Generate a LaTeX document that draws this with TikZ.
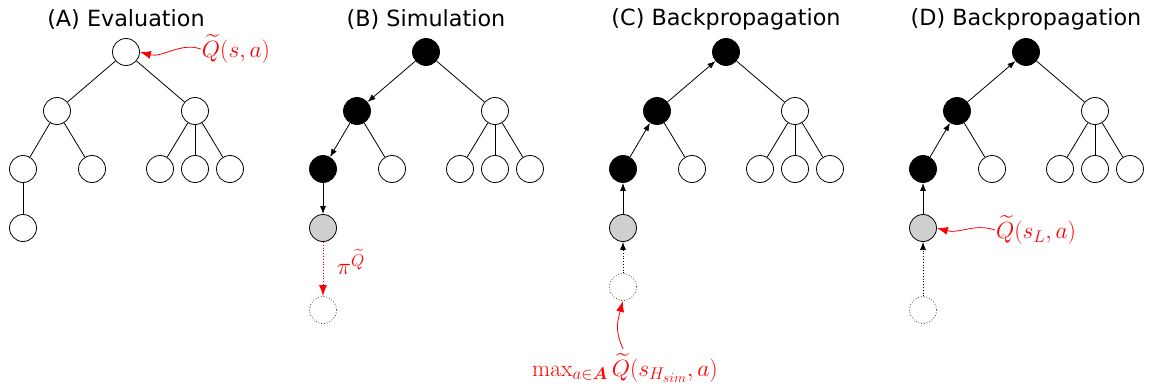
\RequirePackage{fix-cm}
\documentclass[tikz,border=0pt]{standalone}
\usepackage{amsmath,amssymb}
\usepackage{fontspec}
\setsansfont{DejaVu Sans}
\usepackage{tikz}
\usetikzlibrary{arrows.meta,positioning}
\DeclareMathSizes{23.5}{23.5}{17}{14}

\begin{document}
\begin{tikzpicture}[x=1pt, y=-1pt,
  st/.style={circle, draw, line width=0.8pt, minimum size=27pt, inner sep=0pt},
  hit/.style={st, fill=black},
  leaf/.style={st, fill=black!19},
  ghost/.style={st, draw=black!75, dotted},
  ttl/.style={font=\fontsize{22.3}{26}\selectfont\sffamily},
  lbl/.style={text=red, font=\fontsize{23.5}{28}\selectfont, inner sep=1pt},
  edge/.style={line width=0.8pt},
  tip/.style={edge, -{Latex[length=8pt,width=6pt]}},
  rtip/.style={edge, red, -{Latex[length=11pt,width=8pt]}}]
\useasboundingbox (0,0) rectangle (1155,385);

% (A) evaluation
\node[ttl] (aT) at (126,19) {(A) Evaluation};
\node[st] (a0) at (126,52) {};
\node[st] (a1) at (57,111) {};
\node[st] (a2) at (195,111) {};
\node[st] (a11) at (23,169) {};
\node[st] (a12) at (92,169) {};
\node[st] (a21) at (160,169) {};
\node[st] (a22) at (195,169) {};
\node[st] (a23) at (230,169) {};
\node[st] (a111) at (23,228) {};
\foreach \x/\y in {a0/a1,a0/a2,a1/a11,a1/a12,a2/a21,a2/a22,a2/a23,a11/a111} \draw[edge] (\x) -- (\y);
\node[lbl] (aq) at (236,49) {$\widetilde{Q}(s,a)$};
\draw[rtip] (aq.west) .. controls +(-20,-7) and +(22,6) .. (a0.east);

% (B) simulation
\begin{scope}[xshift=300pt]
\node[ttl] (bT) at (126,19) {(B) Simulation};
\node[hit] (b0) at (126,52) {};
\node[hit] (b1) at (57,111) {};
\node[st] (b2) at (195,111) {};
\node[hit] (b11) at (23,169) {};
\node[st] (b12) at (92,169) {};
\node[st] (b21) at (160,169) {};
\node[st] (b22) at (195,169) {};
\node[st] (b23) at (230,169) {};
\node[leaf] (b111) at (23,228) {};
\node[ghost] (b4) at (23,310) {};
\foreach \x/\y in {b0/b2,b1/b12,b2/b21,b2/b22,b2/b23} \draw[edge] (\x) -- (\y);
\foreach \x/\y in {b0/b1,b1/b11,b11/b111} \draw[tip] (\x) -- (\y);
\draw[rtip, dotted] (b111) -- (b4);
\node[lbl] (bq) at (51,262) {$\pi^{\widetilde{Q}}$};
\end{scope}

% (C) backpropagation from the rollout
\begin{scope}[xshift=600pt]
\node[ttl] (cT) at (126,19) {(C) Backpropagation};
\node[hit] (c0) at (126,52) {};
\node[hit] (c1) at (57,111) {};
\node[st] (c2) at (195,111) {};
\node[hit] (c11) at (23,169) {};
\node[st] (c12) at (92,169) {};
\node[st] (c21) at (160,169) {};
\node[st] (c22) at (195,169) {};
\node[st] (c23) at (230,169) {};
\node[leaf] (c111) at (23,228) {};
\node[ghost] (c4) at (23,287) {};
\foreach \x/\y in {c0/c2,c1/c12,c2/c21,c2/c22,c2/c23} \draw[edge] (\x) -- (\y);
\foreach \x/\y in {c111/c11,c11/c1,c1/c0} \draw[tip] (\x) -- (\y);
\draw[tip, dotted] (c4) -- (c111);
\node[lbl] (cq) at (25,368) {$\max_{a\in\boldsymbol{A}}\widetilde{Q}(s_{H_{sim}},a)$};
\draw[rtip] (cq.north) ++(-2,-3) .. controls +(-8,-18) and +(-6,22) .. (c4.south);
\end{scope}

% (D) backpropagation from the leaf
\begin{scope}[xshift=900pt]
\node[ttl] (dT) at (126,19) {(D) Backpropagation};
\node[hit] (d0) at (126,52) {};
\node[hit] (d1) at (57,111) {};
\node[st] (d2) at (195,111) {};
\node[hit] (d11) at (23,169) {};
\node[st] (d12) at (92,169) {};
\node[st] (d21) at (160,169) {};
\node[st] (d22) at (195,169) {};
\node[st] (d23) at (230,169) {};
\node[leaf] (d111) at (23,228) {};
\node[ghost] (d4) at (23,310) {};
\foreach \x/\y in {d0/d2,d1/d12,d2/d21,d2/d22,d2/d23} \draw[edge] (\x) -- (\y);
\foreach \x/\y in {d111/d11,d11/d1,d1/d0} \draw[tip] (\x) -- (\y);
\draw[tip, dotted] (d4) -- (d111);
\node[lbl] (dq) at (136,230) {$\widetilde{Q}(s_L,a)$};
\draw[rtip] (dq.west) .. controls +(-20,-7) and +(22,6) .. (d111.east);
\end{scope}
\end{tikzpicture}
\end{document}
